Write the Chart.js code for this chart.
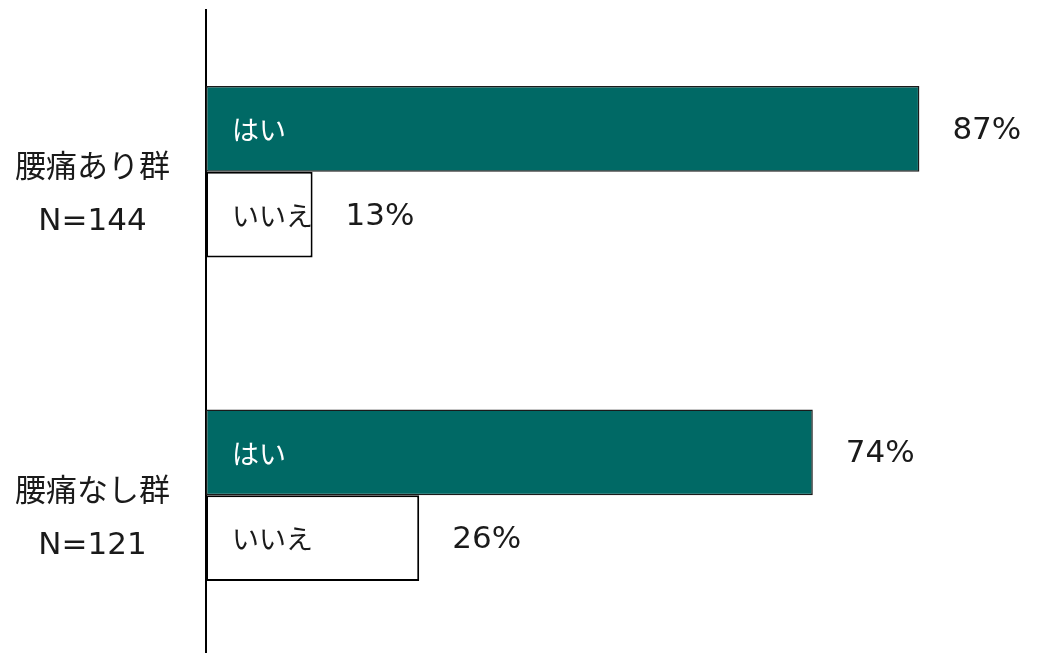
<!DOCTYPE html>
<html lang="ja">
<head>
<meta charset="utf-8">
<title>腰痛の有無別 回答割合</title>
<script src="https://cdn.jsdelivr.net/npm/chart.js@4"></script>
<style>
  html, body { margin: 0; padding: 0; background: #fff; overflow: hidden; }
  canvas { display: block; }
</style>
</head>
<body>
<canvas id="answerChart" width="1048" height="657"></canvas>
<script>
const groups = [['腰痛あり群', 'N=144'], ['腰痛なし群', 'N=121']];
const yesValues = [87, 74];
const noValues = [13, 26];
const seriesNames = ['はい', 'いいえ'];

const LATIN_FONT = "'DejaVu Sans', 'Noto Sans CJK JP', sans-serif";
const JP_FONT = "'Noto Sans CJK JP', sans-serif";

// writes the series name inside each bar and the percentage just past its end
const barLabels = {
  id: 'barLabels',
  afterDatasetsDraw(chart) {
    const ctx = chart.ctx;
    ctx.save();
    ctx.textBaseline = 'middle';
    chart.data.datasets.forEach((ds, i) => {
      const meta = chart.getDatasetMeta(i);
      meta.data.forEach((bar, j) => {
        ctx.textAlign = 'left';
        ctx.font = '27px ' + JP_FONT;
        ctx.fillStyle = i === 0 ? '#ffffff' : '#1a1a1a';
        ctx.fillText(ds.label, bar.base + 26, bar.y + 1);

        ctx.font = '31px ' + LATIN_FONT;
        ctx.fillStyle = '#1a1a1a';
        ctx.fillText(ds.data[j] + '%', bar.x + 33, bar.y + 2);
      });
    });
    ctx.restore();
  }
};

new Chart(document.getElementById('answerChart'), {
  type: 'bar',
  data: {
    labels: groups,
    datasets: [
      {
        label: seriesNames[0],
        data: yesValues,
        backgroundColor: '#006965',
        borderColor: '#1a1a1a',
        borderWidth: 1.5,
        borderSkipped: false
      },
      {
        label: seriesNames[1],
        data: noValues,
        backgroundColor: '#ffffff',
        borderColor: '#000000',
        borderWidth: 2,
        borderSkipped: false
      }
    ]
  },
  options: {
    indexAxis: 'y',
    responsive: false,
    animation: false,
    datasets: {
      bar: {
        barPercentage: 1,
        categoryPercentage: 0.53
      }
    },
    layout: {
      padding: { top: 10, right: 22, bottom: 0, left: 0 }
    },
    plugins: {
      legend: { display: false },
      tooltip: { enabled: false }
    },
    scales: {
      x: {
        display: false,
        min: 0,
        max: 100
      },
      y: {
        afterFit(scale) {
          // fixed axis width, and no extra room reserved for the tall labels
          scale.width = 206;
          scale.paddingTop = 0;
          scale.paddingBottom = 0;
        },
        grid: { display: false, drawTicks: false },
        border: { display: true, color: '#000000', width: 2 },
        ticks: {
          crossAlign: 'center',
          padding: 36,
          labelOffset: 24,
          color: '#1a1a1a',
          font: { family: LATIN_FONT, size: 31, lineHeight: 1.72 }
        }
      }
    }
  },
  plugins: [barLabels]
});
</script>
</body>
</html>
